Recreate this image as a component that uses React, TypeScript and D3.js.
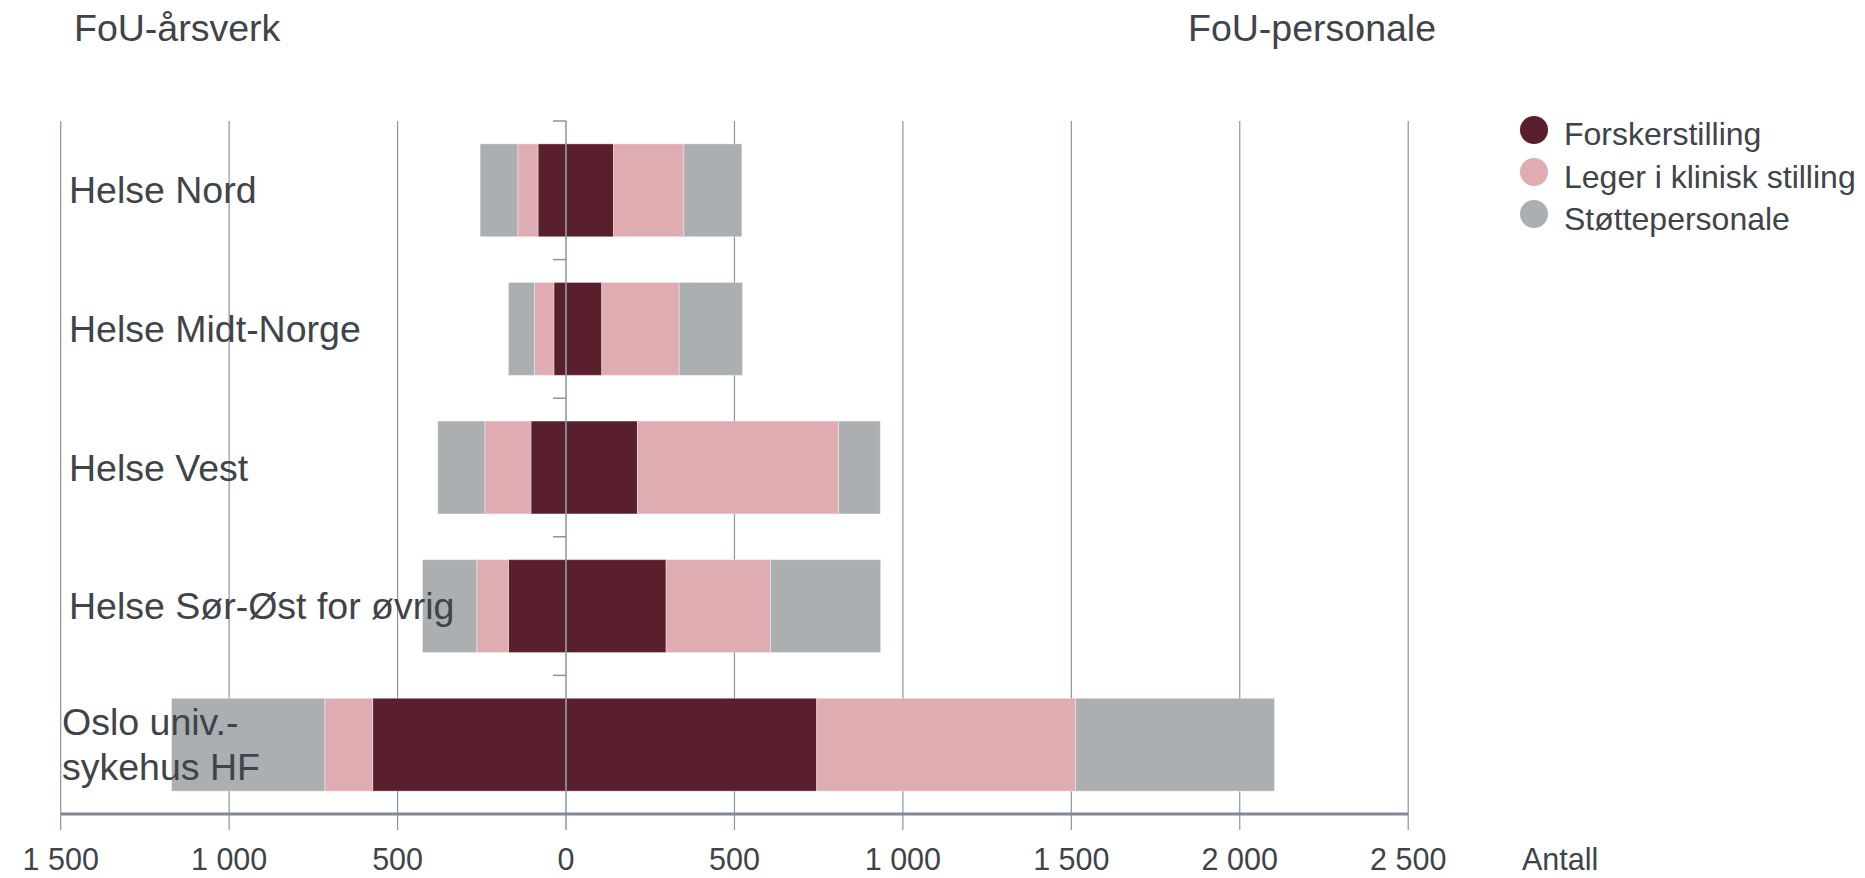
import React from "react";
import * as d3 from "d3";

const categories = [
  "Helse Nord",
  "Helse Midt-Norge",
  "Helse Vest",
  "Helse Sør-Øst for øvrig",
  "Oslo univ.-|sykehus HF",
];
const seriesNames = ["Forskerstilling", "Leger i klinisk stilling", "Støttepersonale"];
const seriesColors = ["#5a1f2d", "#dfadb1", "#acafb2"];

// FoU-årsverk (drawn to the left)
const forskerAarsverk = [83, 36, 104, 171, 574];
const legerAarsverk = [60, 58, 137, 94, 142];
const stotteAarsverk = [112, 77, 140, 161, 455];

// FoU-personale (drawn to the right)
const forskerPersonale = [141, 106, 212, 297, 744];
const legerPersonale = [209, 230, 597, 310, 769];
const stottePersonale = [172, 188, 124, 327, 590];

const xTicks = [-1500, -1000, -500, 0, 500, 1000, 1500, 2000, 2500];

const W = 1865;
const H = 878;
const FONT = "'Liberation Sans', Arial, Helvetica, sans-serif";
const TEXT = "#3f434a";
const GRID = "#8a949d";

const locale = d3.formatLocale({
  decimal: ",",
  thousands: " ",
  grouping: [3],
  currency: ["", ""],
});
const fmt = locale.format(",d");

type Row = { cat: string; f: number; l: number; s: number };

export default function App() {
  const x = d3.scaleLinear().domain([-1500, 2500]).range([60.7, 1408.2]);
  const y = d3
    .scaleBand<string>()
    .domain(categories)
    .range([121, 814])
    .paddingInner(0.33)
    .paddingOuter(0.165);

  const leftRows: Row[] = categories.map((c, i) => ({
    cat: c,
    f: forskerAarsverk[i],
    l: legerAarsverk[i],
    s: stotteAarsverk[i],
  }));
  const rightRows: Row[] = categories.map((c, i) => ({
    cat: c,
    f: forskerPersonale[i],
    l: legerPersonale[i],
    s: stottePersonale[i],
  }));
  const stack = d3.stack<Row>().keys(["f", "l", "s"]);
  const leftStack = stack(leftRows);
  const rightStack = stack(rightRows);

  const bw = y.bandwidth();
  const gridTop = 121;
  const gridBottom = 830;
  const axisY = 814;

  return (
    <svg
      width={W}
      height={H}
      style={{ position: "absolute", left: 0, top: 0, background: "#fff" }}
      fontFamily={FONT}
    >
      {/* titles */}
      <text x={74} y={41} fontSize={37.5} fill={TEXT}>
        FoU-årsverk
      </text>
      <text x={1188} y={41} fontSize={37.5} fill={TEXT}>
        FoU-personale
      </text>

      {/* grid lines */}
      {xTicks
        .filter((t) => t !== 0)
        .map((t) => (
          <line
            key={"g" + t}
            x1={x(t)}
            x2={x(t)}
            y1={gridTop}
            y2={gridBottom}
            stroke={GRID}
            strokeWidth={1.2}
          />
        ))}

      {/* bars left */}
      {leftStack.map((layer, si) =>
        layer.map((d, i) => (
          <rect
            key={"l" + si + "-" + i}
            x={x(-d[1])}
            width={x(-d[0]) - x(-d[1])}
            y={y(categories[i])!}
            height={bw}
            fill={seriesColors[si]}
            stroke="#ffffff"
            strokeOpacity={0.35}
            strokeWidth={1}
          />
        ))
      )}
      {/* bars right */}
      {rightStack.map((layer, si) =>
        layer.map((d, i) => (
          <rect
            key={"r" + si + "-" + i}
            x={x(d[0])}
            width={x(d[1]) - x(d[0])}
            y={y(categories[i])!}
            height={bw}
            fill={seriesColors[si]}
            stroke="#ffffff"
            strokeOpacity={0.35}
            strokeWidth={1}
          />
        ))
      )}

      {/* zero / category axis */}
      <line x1={x(0)} x2={x(0)} y1={gridTop} y2={gridBottom} stroke={GRID} strokeWidth={1.5} />
      {categories.map((c) => (
        <line
          key={"ct" + c}
          x1={x(0) - 13}
          x2={x(0)}
          y1={y(c)! - (y.step() - bw) / 2}
          y2={y(c)! - (y.step() - bw) / 2}
          stroke={GRID}
          strokeWidth={1.5}
        />
      ))}

      {/* bottom axis */}
      <line x1={x(-1500)} x2={x(2500)} y1={axisY} y2={axisY} stroke="#7f8a94" strokeWidth={3} />
      {xTicks.map((t) => (
        <text
          key={"t" + t}
          x={x(t)}
          y={870}
          fontSize={30.5}
          fill={TEXT}
          textAnchor="middle"
        >
          {fmt(Math.abs(t))}
        </text>
      ))}
      <text x={1522} y={870} fontSize={30.5} fill={TEXT}>
        Antall
      </text>

      {/* category labels */}
      {categories.map((c) => {
        const lines = c.split("|");
        const cy = y(c)! + bw / 2;
        if (lines.length === 1) {
          return (
            <text key={"c" + c} x={69} y={cy + 13} fontSize={37.5} fill={TEXT}>
              {c}
            </text>
          );
        }
        return (
          <text key={"c" + c} x={62} y={cy - 9.5} fontSize={37.5} fill={TEXT}>
            {lines.map((ln, k) => (
              <tspan key={k} x={62} dy={k === 0 ? 0 : 45}>
                {ln}
              </tspan>
            ))}
          </text>
        );
      })}

      {/* legend */}
      {seriesNames.map((n, i) => (
        <g key={"lg" + n}>
          <circle cx={1534} cy={130 + i * 42} r={14} fill={seriesColors[i]} />
          <text x={1564} y={145 + i * 42.5} fontSize={32} fill={TEXT}>
            {n}
          </text>
        </g>
      ))}
    </svg>
  );
}
